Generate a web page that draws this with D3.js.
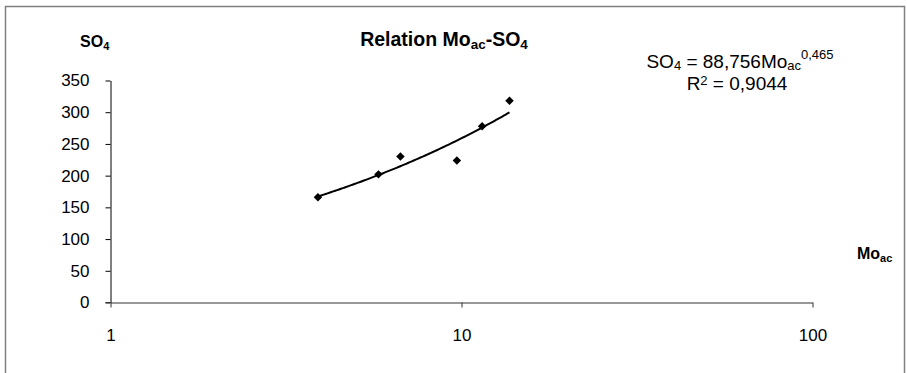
<!DOCTYPE html>
<html><head><meta charset="utf-8">
<script src="https://cdn.jsdelivr.net/npm/d3@7"></script>
<style>
html,body{margin:0;padding:0;background:#fff;}
svg{display:block;font-family:"Liberation Sans",Arial,sans-serif;}
</style></head>
<body>
<svg id="chart" width="907" height="373"></svg>
<script>
// Data
const moAc = [3.9, 5.8, 6.7, 9.7, 11.45, 13.7];
const so4 = [166, 202, 230, 224, 278, 318];
// Power trendline SO4 = a * Mo^b
const trendA = 88.756;
const trendB = 0.465;
const xTicks = [1, 10, 100];
const yTicks = [0, 50, 100, 150, 200, 250, 300, 350];

const FONT = '"Liberation Sans",Arial,sans-serif';
const svg = d3.select("#chart");
// chart frame
svg.append("rect").attr("x", 5.5).attr("y", 6.5).attr("width", 899).attr("height", 380)
  .attr("fill", "#fff").attr("stroke", "#808080").attr("stroke-width", 1.5);

const x = d3.scaleLog().domain([1, 100]).range([110.5, 812.5]);
const y = d3.scaleLinear().domain([0, 350]).range([302.5, 80.5]);

// y axis
const yAxis = d3.axisLeft(y).tickValues(yTicks).tickSize(5).tickSizeOuter(0).tickPadding(16)
  .tickFormat(d3.format("d"));
const gy = svg.append("g").attr("transform", `translate(${x(1)},0)`).call(yAxis);
gy.select(".domain").attr("stroke", "#000");
gy.selectAll(".tick line").attr("stroke", "#000");
gy.selectAll("text").attr("font-size", 17).attr("fill", "#000").attr("font-family", FONT);

// x axis
const xAxis = d3.axisBottom(x).tickValues(xTicks).tickSize(5).tickSizeOuter(0).tickPadding(21)
  .tickFormat(d3.format("d"));
const gx = svg.append("g").attr("transform", `translate(0,${y(0)})`).call(xAxis);
gx.select(".domain").attr("stroke", "#333");
gx.selectAll(".tick line").attr("stroke", "#333");
gx.selectAll("text").attr("font-size", 17).attr("fill", "#000").attr("font-family", FONT);
svg.append("line").attr("x1", x(1) - 5).attr("x2", x(1)).attr("y1", y(0)).attr("y2", y(0)).attr("stroke", "#333");

// trendline
const xmin = d3.min(moAc), xmax = d3.max(moAc);
const tPts = d3.range(0, 101).map(i => {
  const v = Math.exp(Math.log(xmin) + (Math.log(xmax) - Math.log(xmin)) * i / 100);
  return [v, trendA * Math.pow(v, trendB)];
});
svg.append("path").datum(tPts)
  .attr("d", d3.line().x(d => x(d[0])).y(d => y(d[1])))
  .attr("fill", "none").attr("stroke", "#000").attr("stroke-width", 2);

// points
const sym = d3.symbol().type(d3.symbolSquare).size(36);
svg.append("g").selectAll("path").data(moAc.map((v, i) => [v, so4[i]])).join("path")
  .attr("d", sym)
  .attr("transform", d => `translate(${x(d[0])},${y(d[1])}) rotate(45)`)
  .attr("fill", "#000");

// title
const title = svg.append("text").attr("x", 444).attr("y", 46).attr("text-anchor", "middle")
  .attr("font-size", 19.5).attr("font-weight", "bold").attr("fill", "#000");
title.append("tspan").text("Relation Mo");
title.append("tspan").attr("font-size", 13.5).attr("dy", 3).text("ac");
title.append("tspan").attr("dy", -3).text("-SO");
title.append("tspan").attr("font-size", 13.5).attr("dy", 3).text("4");

// y axis title
const yt = svg.append("text").attr("x", 80).attr("y", 47).attr("font-size", 16)
  .attr("font-weight", "bold").attr("fill", "#000");
yt.append("tspan").text("SO");
yt.append("tspan").attr("font-size", 11).attr("dy", 3).text("4");

// x axis title
const xt = svg.append("text").attr("x", 857).attr("y", 259).attr("font-size", 16)
  .attr("font-weight", "bold").attr("fill", "#000");
xt.append("tspan").text("Mo");
xt.append("tspan").attr("font-size", 11).attr("dy", 3).text("ac");

// equation
const eq = svg.append("text").attr("x", 740).attr("y", 68).attr("text-anchor", "middle")
  .attr("font-size", 19).attr("fill", "#000");
eq.append("tspan").text("SO");
eq.append("tspan").attr("font-size", 13).attr("dy", 2).text("4");
eq.append("tspan").attr("dy", -2).text(" = " + String(trendA).replace(".", ",") + "Mo");
eq.append("tspan").attr("font-size", 13).attr("dy", 2).text("ac");
eq.append("tspan").attr("font-size", 13).attr("dy", -11).text(String(trendB).replace(".", ","));
const r2 = svg.append("text").attr("x", 737).attr("y", 90).attr("text-anchor", "middle")
  .attr("font-size", 19).attr("fill", "#000");
r2.append("tspan").text("R");
r2.append("tspan").attr("font-size", 13).attr("dy", -5).text("2");
r2.append("tspan").attr("dy", 5).text(" = 0,9044");
</script>
</body></html>
